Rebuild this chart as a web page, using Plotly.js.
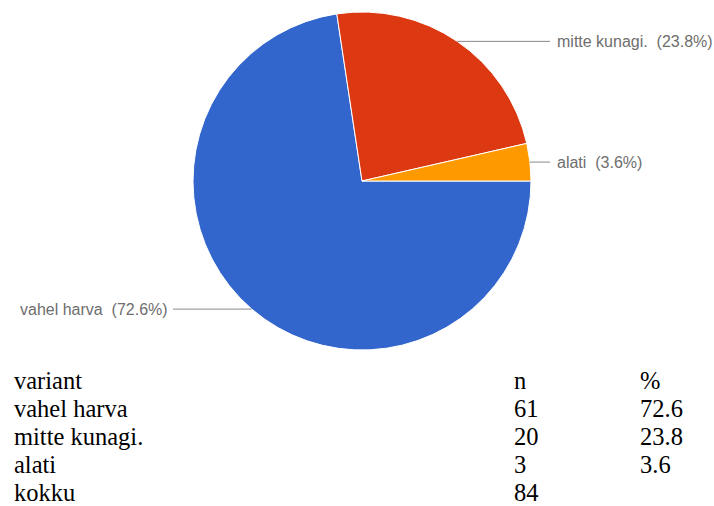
<!DOCTYPE html>
<html>
<head>
<meta charset="utf-8">
<script src="https://cdn.plot.ly/plotly-3.0.1.min.js"></script>
<style>html,body{margin:0;padding:0;background:#fff;}#chart{width:714px;height:506px;}</style>
</head>
<body>
<div id="chart"></div>
<script>
// ---- data ----
const labels = ["vahel harva", "mitte kunagi.", "alati"];
const counts = [61, 20, 3];
const percents = [72.6, 23.8, 3.6];
const total = 84;
const headerRow = ["variant", "n", "%"];
const totalLabel = "kokku";
const colors = ["#3366CC", "#DC3912", "#FF9900"];

// ---- geometry (pixels) ----
const W = 714, H = 506;
const cx = 362, cy = 181, r = 169;
const px = x => x / W;
const py = y => 1 - y / H;

const annotations = [];
const shapes = [];

// leader lines + outside labels, derived from the slice angles
const sum = counts.reduce((a, b) => a + b, 0);
let cum = 0;
counts.forEach((v, i) => {
  const mid = 90 + (cum + v / 2) / sum * 360; // degrees clockwise from 12 o'clock
  cum += v;
  const t = mid * Math.PI / 180;
  const ex = cx + r * Math.sin(t), ey = cy - r * Math.cos(t);
  const right = Math.sin(t) > 0;
  const lx = right ? 550 : 173;
  shapes.push({type: "line", xref: "paper", yref: "paper",
    x0: px(ex), y0: py(ey), x1: px(lx), y1: py(ey),
    line: {color: "#888", width: 1}});
  annotations.push({xref: "paper", yref: "paper",
    x: px(right ? 555 : 170), y: py(ey),
    xanchor: right ? "left" : "right", yanchor: "middle",
    text: labels[i] + "\u00a0\u00a0(" + percents[i].toFixed(1) + "%)",
    showarrow: false, font: {family: "Liberation Sans, Arial", size: 16, color: "#6e6e6e"}});
});

// table below the pie
const rows = [headerRow];
labels.forEach((l, i) => rows.push([l, String(counts[i]), percents[i].toFixed(1)]));
rows.push([totalLabel, String(total), ""]);
const colX = [12, 512, 638];
const baseline0 = 388, rowStep = 28;
rows.forEach((row, ri) => {
  row.forEach((cell, ci) => {
    if (!cell) return;
    annotations.push({xref: "paper", yref: "paper",
      x: px(colX[ci]), y: py(baseline0 + ri * rowStep - 8),
      xanchor: "left", yanchor: "middle", text: cell, showarrow: false,
      font: {family: "Liberation Serif, Times New Roman, serif", size: 24.5, color: "#000"}});
  });
});

const trace = {
  type: "pie",
  labels: labels,
  values: counts,
  sort: false,
  direction: "clockwise",
  rotation: 90,
  textinfo: "none",
  hoverinfo: "none",
  marker: {colors: colors, line: {color: "#ffffff", width: 1}},
  domain: {x: [px(cx - r), px(cx + r)], y: [py(cy + r), py(cy - r)]},
  showlegend: false
};

Plotly.newPlot("chart", [trace], {
  width: W, height: H,
  margin: {l: 0, r: 0, t: 0, b: 0},
  paper_bgcolor: "#fff",
  showlegend: false,
  annotations: annotations,
  shapes: shapes
}, {staticPlot: true});
</script>
</body>
</html>
